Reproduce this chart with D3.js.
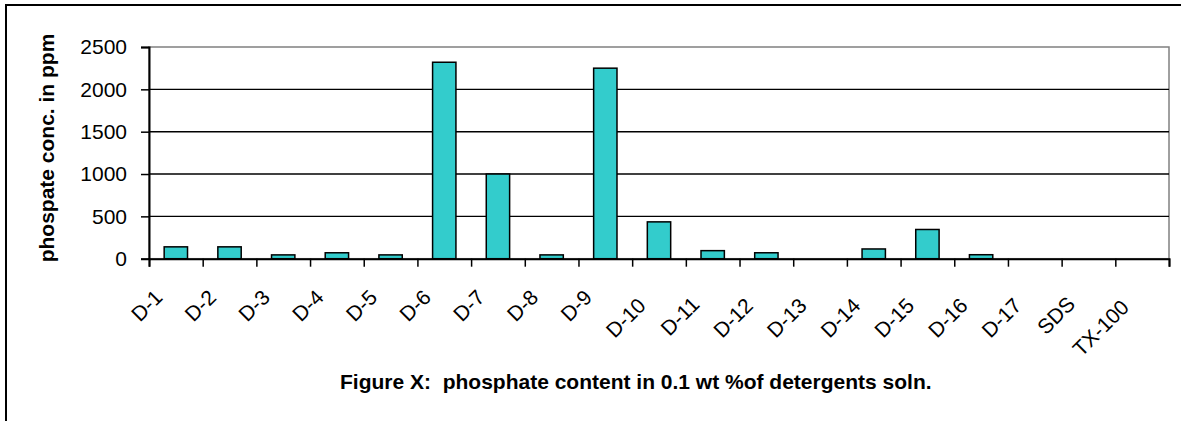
<!DOCTYPE html>
<html>
<head>
<meta charset="utf-8">
<script src="https://cdn.jsdelivr.net/npm/d3@7"></script>
<style>
  body { margin: 0; background: #fff; }
  text { font-family: "Liberation Sans", Arial, sans-serif; }
</style>
</head>
<body>
<div class="canvas"></div>
<script>
// data
const categories = ['D-1', 'D-2', 'D-3', 'D-4', 'D-5', 'D-6', 'D-7', 'D-8', 'D-9', 'D-10',
    'D-11', 'D-12', 'D-13', 'D-14', 'D-15', 'D-16', 'D-17', 'SDS', 'TX-100'];
const phosphate = [140, 140, 45, 70, 45, 2320, 1000, 45, 2250, 435,
    95, 70, 0, 115, 345, 47, 0, 0, 0];
const yTicks = [0, 500, 1000, 1500, 2000, 2500];

const width = 1181;
const height = 421;
const margin = { top: 47, right: 12, bottom: 162, left: 149 };
const graphWidth = 1169 - margin.left;
const graphHeight = 258.7 - margin.top;

const svg = d3.select('.canvas')
    .append('svg')
        .attr('width', width)
        .attr('height', height);

// outer chart border (right and bottom fall outside the picture)
svg.append('rect')
    .attr('x', 6)
    .attr('y', 5)
    .attr('width', 1400)
    .attr('height', 600)
    .attr('fill', 'none')
    .attr('stroke', '#000')
    .attr('stroke-width', 2);

const graph = svg.append('g')
    .attr('transform', `translate(${margin.left}, ${margin.top})`);

// scales
const x = d3.scaleBand()
    .domain(categories)
    .range([0, graphWidth])
    .paddingInner(0.565)
    .paddingOuter(0.2825);
const xEdges = d3.scaleLinear().domain([0, categories.length]).range([0, graphWidth]);
const y = d3.scaleLinear().domain([0, 2500]).range([graphHeight, 0]);

// plot area frame (grey top/right)
graph.append('rect')
    .attr('width', graphWidth)
    .attr('height', graphHeight)
    .attr('fill', '#fff')
    .attr('stroke', '#808080')
    .attr('stroke-width', 1.5);

// gridlines
graph.append('g')
    .selectAll('line')
    .data(yTicks.filter(d => d > 0 && d < 2500))
    .enter()
    .append('line')
        .attr('x1', 0)
        .attr('x2', graphWidth)
        .attr('y1', d => y(d))
        .attr('y2', d => y(d))
        .attr('stroke', '#000')
        .attr('stroke-width', 1.4);

// bars
graph.selectAll('rect.bar')
    .data(phosphate)
    .enter()
    .append('rect')
        .attr('class', 'bar')
        .attr('x', (d, i) => x(categories[i]))
        .attr('y', d => y(d))
        .attr('width', x.bandwidth())
        .attr('height', d => graphHeight - y(d))
        .attr('fill', '#33CCCC')
        .attr('stroke', d => d > 0 ? '#000' : 'none')
        .attr('stroke-width', 1.5);

// axes
const yAxis = d3.axisLeft(y)
    .tickValues(yTicks)
    .tickSize(8)
    .tickPadding(14)
    .tickFormat(d => d);
const yAxisGroup = graph.append('g').attr('class', 'y-axis').call(yAxis);

const xAxis = d3.axisBottom(xEdges)
    .tickValues(d3.range(categories.length + 1))
    .tickSize(8)
    .tickFormat('');
const xAxisGroup = graph.append('g')
    .attr('class', 'x-axis')
    .attr('transform', `translate(0, ${graphHeight})`)
    .call(xAxis);

[yAxisGroup, xAxisGroup].forEach(g => {
    g.select('.domain').attr('stroke', '#000').attr('stroke-width', 2);
    g.selectAll('.tick line').attr('stroke', '#000').attr('stroke-width', 1.5);
});
yAxisGroup.selectAll('text')
    .attr('font-size', 21)
    .attr('fill', '#000');

// rotated category labels; longer labels sit a little lower, as in the original
const labels = graph.append('g')
    .selectAll('text')
    .data(categories)
    .enter()
    .append('text')
        .attr('text-anchor', 'end')
        .attr('font-size', 21)
        .attr('fill', '#000')
        .text(d => d);

const baseLen = labels.nodes()[0].getComputedTextLength();
labels.attr('transform', function(d) {
    const drop = Math.min(0.7 * (this.getComputedTextLength() - baseLen), 10);
    return `translate(${x(d) + x.bandwidth() / 2 - 12}, ${graphHeight + 40 + drop}) rotate(-45)`;
});

// y axis title
svg.append('text')
    .attr('transform', 'translate(54, 148) rotate(-90)')
    .attr('text-anchor', 'middle')
    .attr('font-size', 21)
    .attr('font-weight', 'bold')
    .text('phospate conc. in ppm');

// figure caption
svg.append('text')
    .attr('x', 340)
    .attr('y', 389)
    .attr('font-size', 21)
    .attr('font-weight', 'bold')
    .style('white-space', 'pre')
    .text('Figure X:  phosphate content in 0.1 wt %of detergents soln.');
</script>
</body>
</html>
